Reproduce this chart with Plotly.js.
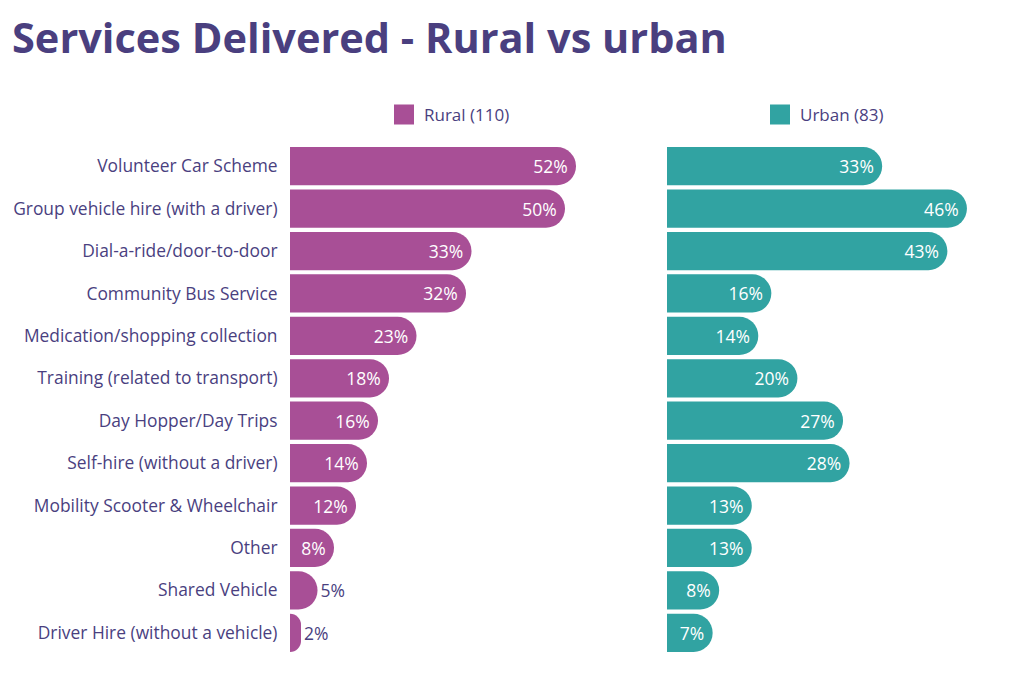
<!DOCTYPE html>
<html><head><meta charset="utf-8">
<script src="https://cdn.plot.ly/plotly-3.0.1.min.js"></script>
<style>body{margin:0;background:#fff}#c{width:1024px;height:695px}</style>
</head><body><div id="c"></div>
<script>
const categories = ["Volunteer Car Scheme","Group vehicle hire (with a driver)","Dial-a-ride/door-to-door","Community Bus Service","Medication/shopping collection","Training (related to transport)","Day Hopper/Day Trips","Self-hire (without a driver)","Mobility Scooter & Wheelchair","Other","Shared Vehicle","Driver Hire (without a vehicle)"];
const rural = [52,50,33,32,23,18,16,14,12,8,5,2];
const urban = [33,46,43,16,14,20,27,28,13,13,8,7];
const ruralName = "Rural (110)";
const urbanName = "Urban (83)";

const textCol = "#4a3f7f";
const ruralCol = "#a84f96", urbanCol = "#31a3a2";
const W = 1024, H = 695, L = 290, R = 10;
const pw = W - L - R;
const px = v => (v - L) / pw;

const mk = (vals, name, color, xa) => ({
  type: "bar", orientation: "h", y: categories, x: vals, name: name,
  xaxis: xa, yaxis: "y", showlegend: false,
  marker: {color: color, cornerradius: "50%", line: {width: 0}},
  text: vals.map(v => v + "%"),
  textposition: vals.map(v => v >= 7 ? "inside" : "outside"),
  insidetextanchor: "end",
  constraintext: "none",
  insidetextfont: {color: "#ffffff", size: 17.5, family: "Open Sans"},
  outsidetextfont: {color: textCol, size: 17.5, family: "Open Sans"},
  hoverinfo: "x+y", cliponaxis: false
});

const legItem = (name, color, xa, leg) => ({
  type: "scatter", mode: "markers", x: [null], y: [null], name: name,
  xaxis: xa, yaxis: "y", legend: leg, showlegend: true, hoverinfo: "skip",
  marker: {symbol: "square", size: 16, color: color, line: {color: color, width: 4}}
});

const data = [
  mk(rural, ruralName, ruralCol, "x"),
  mk(urban, urbanName, urbanCol, "x2"),
  legItem(ruralName, ruralCol, "x", "legend"),
  legItem(urbanName, urbanCol, "x2", "legend2")
];

const legY = 1 + (145 - 115) / 509;
const legFont = {size: 17, color: textCol, family: "Open Sans"};

const layout = {
  width: W, height: H,
  margin: {l: L, r: R, t: 145, b: 41},
  paper_bgcolor: "#fff", plot_bgcolor: "#fff",
  font: {family: "Open Sans", color: textCol},
  title: {text: "<b>Services Delivered - Rural vs urban</b>", x: 12/W, xanchor: "left", y: 1 - 38/H, yanchor: "middle",
          font: {size: 41.5, color: textCol, family: "Open Sans"}},
  bargap: 0.1,
  xaxis: {domain: [0, px(600)], range: [0, 310/5.5], showgrid: false, zeroline: false, showticklabels: false, fixedrange: true},
  xaxis2: {domain: [px(667), 1], range: [0, 347/6.52], showgrid: false, zeroline: false, showticklabels: false, anchor: "y"},
  yaxis: {autorange: "reversed", showgrid: false, zeroline: false, ticks: "outside", ticklen: 8, tickcolor: "rgba(0,0,0,0)",
          tickfont: {size: 17.4, color: textCol, family: "Open Sans"}, automargin: false},
  legend: {x: px(384), y: legY, xanchor: "left", yanchor: "middle", orientation: "h", itemsizing: "trace",
           font: legFont, bgcolor: "rgba(0,0,0,0)"},
  legend2: {x: px(760), y: legY, xanchor: "left", yanchor: "middle", orientation: "h", itemsizing: "trace",
           font: legFont, bgcolor: "rgba(0,0,0,0)"}
};

Plotly.newPlot("c", data, layout, {displayModeBar: false, staticPlot: true});
</script>
</body></html>
